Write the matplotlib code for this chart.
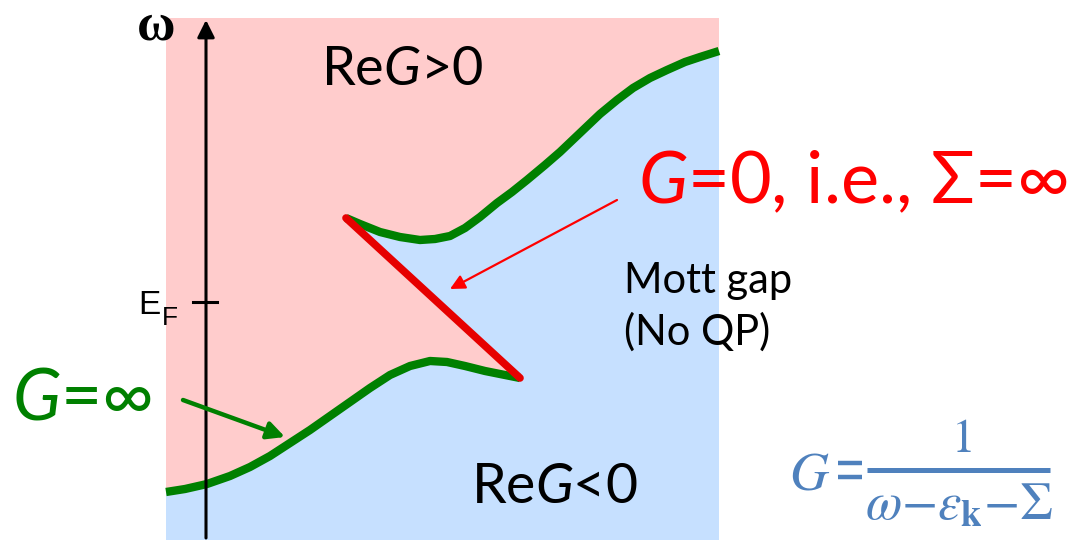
import matplotlib
matplotlib.use("Agg")
import matplotlib.pyplot as plt
from matplotlib.patches import Rectangle

# diagram coordinates are in image pixels (y grows downward)
panel_x = [166, 719]
panel_y = [18, 540]

# lower G=inf branch (left edge -> cusp)
lower_x = [166, 185, 207, 230, 250, 270, 290, 310, 330, 350, 370, 390,
           410, 430, 447, 465, 485, 505, 520]
lower_y = [492, 489, 484, 476, 467, 456, 443, 430, 416, 402, 388, 375,
           366, 361, 362, 366, 371, 375, 378]

# upper G=inf branch (cusp -> right edge)
upper_x = [346, 360, 380, 400, 420, 435, 450, 465, 480, 497, 512, 527,
           545, 560, 580, 600, 617, 633, 650, 667, 685, 700, 719]
upper_y = [218, 224, 232, 237, 240, 239, 236, 228, 217, 203, 192, 180,
           165, 152, 133, 114, 100, 88, 78, 70, 62, 57, 51]

# G=0 line joining the two cusps
zero_x = [346, 520]
zero_y = [218, 378]

axis_x = 206
ef_y = 302

PINK = "#FFCCCC"
BLUE = "#C6E0FF"
GREEN = "#008000"
RED = "#FF0000"
FORMULA = "#4F81BD"

plt.rcParams["font.family"] = ["Lato", "DejaVu Sans"]
plt.rcParams["mathtext.fontset"] = "custom"
plt.rcParams["mathtext.rm"] = "Lato"
plt.rcParams["mathtext.it"] = "Lato:italic"

fig = plt.figure(figsize=(10.82, 5.40), dpi=100)
ax = fig.add_axes([0, 0, 1, 1])
ax.set_xlim(0, 1082)
ax.set_ylim(540, 0)
ax.axis("off")

# background regions
ax.add_patch(Rectangle((panel_x[0], panel_y[0]), panel_x[1] - panel_x[0],
                       panel_y[1] - panel_y[0], facecolor=PINK, edgecolor="none"))
blue_x = lower_x + zero_x[::-1][1:] + upper_x + [panel_x[1], panel_x[0]]
blue_y = lower_y + zero_y[::-1][1:] + upper_y + [panel_y[1], panel_y[1]]
ax.fill(blue_x, blue_y, color=BLUE, lw=0)

# curves
ax.plot(lower_x, lower_y, color=GREEN, lw=6, solid_capstyle="butt", solid_joinstyle="round")
ax.plot(upper_x, upper_y, color=GREEN, lw=6, solid_capstyle="butt", solid_joinstyle="round")
ax.plot(zero_x, zero_y, color="#E60000", lw=5.5, solid_capstyle="round")

# omega axis
ax.annotate("", xy=(axis_x, 20), xytext=(axis_x, 538),
            arrowprops=dict(arrowstyle="-|>", lw=2.2, color="black",
                            mutation_scale=26, shrinkA=0, shrinkB=0))
ax.plot([193, 217], [ef_y, ef_y], color="black", lw=2.2)
ax.text(156, 26, "ω", family="Liberation Serif", fontweight="bold", fontsize=38,
        ha="center", va="center")
ax.text(138, 314, "E", family="Liberation Sans", fontsize=24, ha="left", va="baseline")
ax.text(162, 325, "F", family="Liberation Sans", fontsize=19, ha="left", va="baseline")

# pointer arrows
ax.annotate("", xy=(450, 289), xytext=(617, 200),
            arrowprops=dict(arrowstyle="-|>", lw=1.6, color=RED,
                            mutation_scale=22, shrinkA=0, shrinkB=0))
ax.annotate("", xy=(285, 437), xytext=(183, 400),
            arrowprops=dict(arrowstyle="-|>", lw=3.2, color=GREEN,
                            mutation_scale=26, shrinkA=0, shrinkB=0))

# labels
ax.text(321, 85, r"Re$G$>0", fontsize=39, ha="left", va="baseline")
ax.text(471, 503, r"Re$G$<0", fontsize=40, ha="left", va="baseline")
ax.text(638, 203, r"$G$=0, i.e., Σ=∞", fontsize=52, color=RED, ha="left", va="baseline")
ax.text(12, 420, r"$G$=∞", fontsize=51, color=GREEN, ha="left", va="baseline")
ax.text(624, 293, "Mott gap", fontsize=30, ha="left", va="baseline")
ax.text(624, 345, "(No QP)", fontsize=30, ha="left", va="baseline")

# Green's function formula
ax.text(789, 489, r"$G$", fontsize=39, color=FORMULA, ha="left", va="baseline",
        math_fontfamily="stix")
ax.plot([838, 862], [463, 463], color=FORMULA, lw=3.2, solid_capstyle="butt")
ax.plot([838, 862], [477, 477], color=FORMULA, lw=3.2, solid_capstyle="butt")
ax.plot([867, 1050], [470, 470], color=FORMULA, lw=3.6, solid_capstyle="butt")
ax.text(961, 452, r"$1$", fontsize=34, color=FORMULA, ha="center", va="baseline",
        math_fontfamily="stix")
ax.text(959, 520, r"$\omega{-}\varepsilon_{\mathbf{k}}{-}\Sigma$", fontsize=38, color=FORMULA,
        ha="center", va="baseline", math_fontfamily="stix")

fig.savefig("out.png", dpi=100)
